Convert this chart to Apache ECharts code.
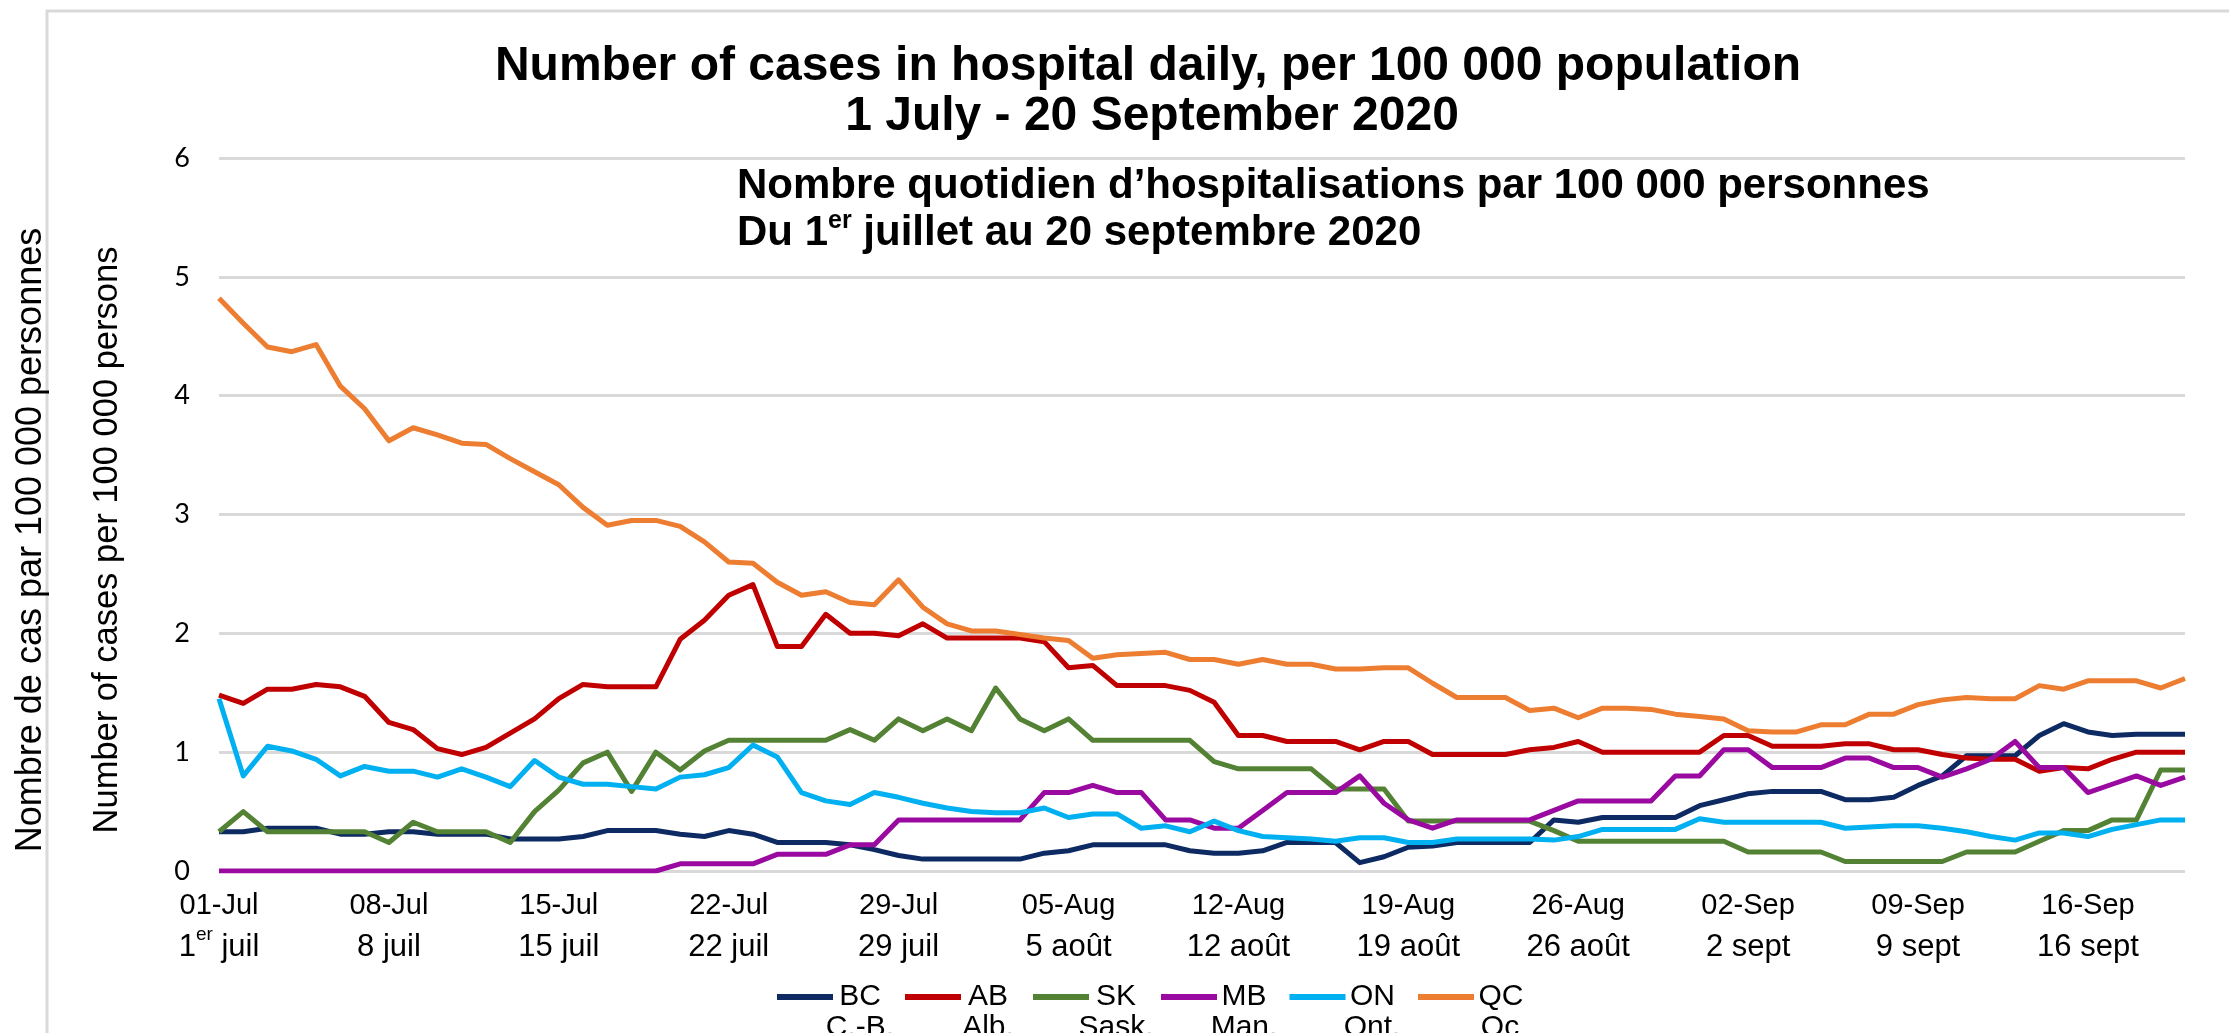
<!DOCTYPE html>
<html>
<head>
<meta charset="utf-8">
<script src="https://cdn.jsdelivr.net/npm/echarts@6/dist/echarts.min.js"></script>
<style>
html,body{margin:0;padding:0;background:#fff;}
#chart{width:2229px;height:1033px;}
</style>
</head>
<body>
<div id="chart"></div>
<script>
// ---- Data ----
const seriesNames = ['BC', 'AB', 'SK', 'MB', 'ON', 'QC'];
const seriesNamesFr = ['C.-B.', 'Alb.', 'Sask.', 'Man.', 'Ont.', 'Qc'];
const seriesColors = ['#0d2a62', '#c00000', '#548235', '#9b0aa0', '#00b0f0', '#ed7d31'];

const BC = [0.33,0.33,0.36,0.36,0.36,0.31,0.31,0.33,0.33,0.31,0.31,0.31,0.27,0.27,0.27,0.29,0.34,0.34,0.34,0.31,0.29,
  0.34,0.31,0.24,0.24,0.24,0.22,0.18,0.13,0.10,0.10,0.10,0.10,0.10,0.15,0.17,0.22,0.22,0.22,0.22,0.17,
  0.15,0.15,0.17,0.24,0.24,0.24,0.07,0.12,0.20,0.21,0.24,0.24,0.24,0.24,0.43,0.41,0.45,0.45,0.45,0.45,
  0.55,0.60,0.65,0.67,0.67,0.67,0.60,0.60,0.62,0.72,0.80,0.97,0.97,0.97,1.14,1.24,1.17,1.14,1.15,1.15,1.15];
const AB = [1.48,1.41,1.53,1.53,1.57,1.55,1.47,1.25,1.19,1.03,0.98,1.04,1.16,1.28,1.45,1.57,1.55,1.55,1.55,1.95,2.11,
  2.32,2.41,1.89,1.89,2.16,2.00,2.00,1.98,2.08,1.96,1.96,1.96,1.96,1.93,1.71,1.73,1.56,1.56,1.56,1.52,
  1.42,1.14,1.14,1.09,1.09,1.09,1.02,1.09,1.09,0.98,0.98,0.98,0.98,1.02,1.04,1.09,1.00,1.00,1.00,1.00,
  1.00,1.14,1.14,1.05,1.05,1.05,1.07,1.07,1.02,1.02,0.98,0.95,0.94,0.94,0.84,0.87,0.86,0.94,1.00,1.00,1.00];
const SK = [0.33,0.50,0.33,0.33,0.33,0.33,0.33,0.24,0.41,0.33,0.33,0.33,0.24,0.50,0.68,0.91,1.00,0.67,1.00,0.85,1.01,
  1.10,1.10,1.10,1.10,1.10,1.19,1.10,1.28,1.18,1.28,1.18,1.54,1.28,1.18,1.28,1.10,1.10,1.10,1.10,1.10,
  0.92,0.86,0.86,0.86,0.86,0.69,0.69,0.69,0.42,0.42,0.42,0.42,0.42,0.42,0.34,0.25,0.25,0.25,0.25,0.25,
  0.25,0.25,0.16,0.16,0.16,0.16,0.08,0.08,0.08,0.08,0.08,0.16,0.16,0.16,0.25,0.34,0.34,0.43,0.43,0.85,0.85];
const MB = [0,0,0,0,0,0,0,0,0,0,0,0,0,0,0,0,0,0,0,0.06,0.06,
  0.06,0.06,0.14,0.14,0.14,0.22,0.22,0.43,0.43,0.43,0.43,0.43,0.43,0.66,0.66,0.72,0.66,0.66,0.43,0.43,
  0.36,0.36,0.51,0.66,0.66,0.66,0.80,0.57,0.43,0.36,0.43,0.43,0.43,0.43,0.51,0.59,0.59,0.59,0.59,0.80,
  0.80,1.02,1.02,0.87,0.87,0.87,0.95,0.95,0.87,0.87,0.79,0.86,0.94,1.09,0.87,0.87,0.66,0.73,0.80,0.72,0.79];
const ON = [1.45,0.80,1.05,1.01,0.94,0.80,0.88,0.84,0.84,0.79,0.86,0.79,0.71,0.93,0.79,0.73,0.73,0.71,0.69,0.79,0.81,
  0.87,1.06,0.96,0.66,0.59,0.56,0.66,0.62,0.57,0.53,0.50,0.49,0.49,0.53,0.45,0.48,0.48,0.36,0.38,0.33,
  0.42,0.34,0.29,0.28,0.27,0.25,0.28,0.28,0.24,0.24,0.27,0.27,0.27,0.27,0.26,0.29,0.35,0.35,0.35,0.35,
  0.44,0.41,0.41,0.41,0.41,0.41,0.36,0.37,0.38,0.38,0.36,0.33,0.29,0.26,0.32,0.32,0.29,0.35,0.39,0.43,0.43];
const QC = [4.82,4.61,4.41,4.37,4.43,4.08,3.89,3.62,3.73,3.67,3.60,3.59,3.47,3.36,3.25,3.06,2.91,2.95,2.95,2.90,2.77,
  2.60,2.59,2.43,2.32,2.35,2.26,2.24,2.45,2.22,2.08,2.02,2.02,1.99,1.96,1.94,1.79,1.82,1.83,1.84,1.78,
  1.78,1.74,1.78,1.74,1.74,1.70,1.70,1.71,1.71,1.58,1.46,1.46,1.46,1.35,1.37,1.29,1.37,1.37,1.36,1.32,
  1.30,1.28,1.18,1.17,1.17,1.23,1.23,1.32,1.32,1.40,1.44,1.46,1.45,1.45,1.56,1.53,1.60,1.60,1.60,1.54,1.62];
const seriesData = [BC, AB, SK, MB, ON, QC];

const tickLabelsEn = ['01-Jul','08-Jul','15-Jul','22-Jul','29-Jul','05-Aug','12-Aug','19-Aug','26-Aug','02-Sep','09-Sep','16-Sep'];
const tickLabelsFr = ['1er juil','8 juil','15 juil','22 juil','29 juil','5 août','12 août','19 août','26 août','2 sept','9 sept','16 sept'];
const yTicks = [0, 1, 2, 3, 4, 5, 6];

const titleLine1 = 'Number of cases in hospital daily, per 100 000 population';
const titleLine2 = '1 July - 20 September 2020';
const subLine1 = 'Nombre quotidien d\u2019hospitalisations par 100 000 personnes';
const subLine2 = 'Du 1er juillet au 20 septembre 2020';
const yTitleFr = 'Nombre de cas par 100 000 personnes';
const yTitleEn = 'Number of cases per 100 000 persons';

// categories: one per day, 1 July .. 20 September 2020
const monthNames = ['Jul', 'Aug', 'Sep'];
const monthDays = [31, 31, 20];
const categories = [];
monthNames.forEach((m, mi) => {
  for (let d = 1; d <= monthDays[mi]; d++) categories.push((d < 10 ? '0' : '') + d + '-' + m);
});

// ---- Chart ----
const FONT = 'Arial, "Liberation Sans", sans-serif';
const supify = (s, base, sup) => {
  const m = s.match(/^(\d+)er(.*)$/);
  if (m) return '{' + base + '|' + m[1] + '}{' + sup + '|er}{' + base + '|' + m[2] + '}';
  return '{' + base + '|' + s + '}';
};

// legend geometry (used to place the French second row under each item)
const LEG_LEFT = 777, LEG_ICON_W = 56, LEG_GAP = 5, LEG_TEXT_W = 44, LEG_ITEM_GAP = 23, LEG_ROW1 = 997, LEG_ROW2 = 1028;
const legStep = LEG_ICON_W + LEG_GAP + LEG_TEXT_W + LEG_ITEM_GAP;

const chart = echarts.init(document.getElementById('chart'), null, {renderer: 'canvas'});

const frenchLegendRow = seriesNamesFr.map((t, k) => ({
  type: 'text',
  x: LEG_LEFT + k * legStep + LEG_ICON_W + LEG_GAP + LEG_TEXT_W / 2,
  y: LEG_ROW2,
  style: {text: t, font: '30px ' + FONT, fill: '#000', align: 'center', verticalAlign: 'middle'}
}));

const option = {
  backgroundColor: '#ffffff',
  animation: false,
  grid: {left: 219, right: 44, top: 158, bottom: 162, containLabel: false},
  xAxis: {
    type: 'category',
    data: categories,
    boundaryGap: false,
    axisLine: {show: false},
    axisTick: {show: false},
    splitLine: {show: false},
    axisLabel: {
      interval: 6,
      margin: 16,
      color: '#000',
      fontFamily: FONT,
      formatter: function (val, idx) {
        const k = Math.round(idx / 7);
        return '{a|' + tickLabelsEn[k] + '}\n' + supify(tickLabelsFr[k], 'b', 's');
      },
      rich: {
        a: {fontSize: 29, lineHeight: 38, fontFamily: FONT, color: '#000', align: 'center'},
        b: {fontSize: 31, lineHeight: 44, fontFamily: FONT, color: '#000', align: 'center'},
        s: {fontSize: 19, lineHeight: 32, fontFamily: FONT, color: '#000', align: 'center', verticalAlign: 'top'}
      }
    }
  },
  yAxis: {
    type: 'value',
    min: yTicks[0],
    max: yTicks[yTicks.length - 1],
    interval: 1,
    axisLine: {show: false},
    axisTick: {show: false},
    axisLabel: {fontSize: 27, fontFamily: 'Lato, "Open Sans", sans-serif', color: '#000', margin: 29},
    splitLine: {show: true, lineStyle: {color: '#d9d9d9', width: 3}}
  },
  legend: {
    data: seriesNames,
    left: LEG_LEFT,
    top: LEG_ROW1 - 15,
    padding: 0,
    itemGap: LEG_ITEM_GAP,
    itemWidth: LEG_ICON_W,
    itemHeight: 6,
    icon: 'rect',
    textGap: LEG_GAP,
    formatter: function (name) { return '{n|' + name + '}'; },
    textStyle: {
      rich: {
        n: {width: LEG_TEXT_W, align: 'center', fontSize: 30, lineHeight: 30, fontFamily: FONT, color: '#000'}
      }
    }
  },
  series: seriesNames.map((n, i) => ({
    name: n,
    type: 'line',
    data: seriesData[i],
    symbol: 'none',
    showSymbol: false,
    smooth: false,
    color: seriesColors[i],
    itemStyle: {color: seriesColors[i]},
    lineStyle: {color: seriesColors[i], width: 5, join: 'round'}
  })),
  graphic: [
    {type: 'rect', silent: true, z: -1, shape: {x: 47, y: 11, width: 3000, height: 3000},
      style: {fill: 'none', stroke: '#d9d9d9', lineWidth: 3}},
    {type: 'text', x: 1148, y: 67, style: {text: titleLine1, font: 'bold 48px ' + FONT, fill: '#000', align: 'center', verticalAlign: 'middle'}},
    {type: 'text', x: 1152, y: 117, style: {text: titleLine2, font: 'bold 48px ' + FONT, fill: '#000', align: 'center', verticalAlign: 'middle'}},
    {type: 'text', x: 737, y: 186, style: {text: subLine1, font: 'bold 42px ' + FONT, fill: '#000', align: 'left', verticalAlign: 'middle'}},
    {type: 'text', x: 737, y: 233, style: {
      text: supify(subLine2.replace('Du ', ''), 'm', 's').replace('{m|1}', '{m|Du 1}'),
      align: 'left', verticalAlign: 'middle',
      rich: {
        m: {font: 'bold 42px ' + FONT, fill: '#000', lineHeight: 48},
        s: {font: 'bold 25px ' + FONT, fill: '#000', lineHeight: 30, verticalAlign: 'top'}
      }
    }},
    {type: 'text', x: 31, y: 540, rotation: Math.PI / 2, style: {text: yTitleFr, font: '36px ' + FONT, fill: '#000', align: 'center', verticalAlign: 'middle'}},
    {type: 'text', x: 107, y: 540, rotation: Math.PI / 2, style: {text: yTitleEn, font: '34.5px ' + FONT, fill: '#000', align: 'center', verticalAlign: 'middle'}}
  ].concat(frenchLegendRow)
};
chart.setOption(option);
</script>
</body>
</html>
